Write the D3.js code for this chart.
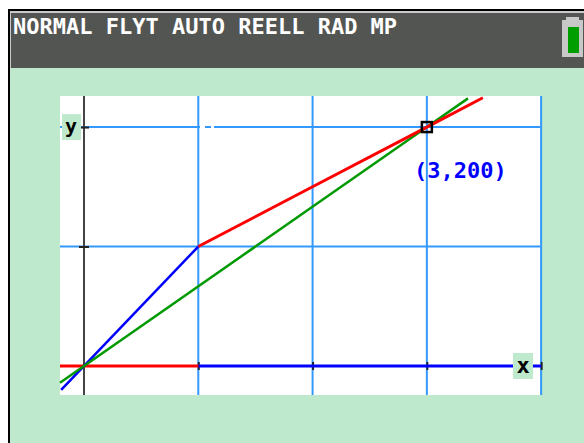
<!DOCTYPE html>
<html>
<head>
<meta charset="utf-8">
<script src="https://cdn.jsdelivr.net/npm/d3@7"></script>
<style>
  html, body { margin: 0; padding: 0; background: #fff; }
  svg { display: block; }
</style>
</head>
<body>
<svg width="584" height="443"></svg>
<script>
var svg = d3.select("svg"),
    width = +svg.attr("width"),
    height = +svg.attr("height");

// window settings
var xWindow = [-0.21, 3.99],
    yWindow = [-24.3, 226];
var xGrid = [1, 2, 3, 4],
    yGrid = [100, 200];

// graphed pieces (x, y)
var redA = [[-0.21, 0], [1, 0]];
var redB = [[1, 100], [2, 150], [3, 200], [3.49, 224.5]];
var blueA = [[-0.2, -20], [1, 100]];
var blueB = [[1, 0], [4, 0]];
var green = [[-0.21, -14], [3, 200], [3.36, 224]];

var point = [3, 200],
    pointLabel = "(3,200)";

var statusText = "NORMAL FLYT AUTO REELL RAD MP";

var x = d3.scaleLinear().domain(xWindow).range([60, 540]),
    y = d3.scaleLinear().domain(yWindow).range([395, 96]);

var mono = "'DejaVu Sans Mono', monospace";

// screen frame
svg.append("rect").attr("x", 9).attr("y", 11).attr("width", width - 9).attr("height", height - 11)
    .attr("fill", "#bfe9cc");
svg.append("line").attr("x1", 9).attr("x2", 9).attr("y1", 10).attr("y2", height)
    .attr("stroke", "#000").attr("stroke-width", 2);
svg.append("line").attr("x1", 8).attr("x2", width).attr("y1", 10).attr("y2", 10)
    .attr("stroke", "#000").attr("stroke-width", 2);
svg.append("rect").attr("x", 10).attr("y", 11).attr("width", width - 10).attr("height", 57)
    .attr("fill", "#c9c9c9");
svg.append("rect").attr("x", 11).attr("y", 13).attr("width", width - 11).attr("height", 55)
    .attr("fill", "#535552");

svg.append("text")
    .attr("x", 13).attr("y", 34)
    .attr("font-family", mono).attr("font-weight", "bold").attr("font-size", 22)
    .attr("fill", "#fff")
    .text(statusText);

// battery
svg.append("rect").attr("x", 562).attr("y", 20).attr("width", 21).attr("height", 37)
    .attr("fill", "#c8c8c8");
svg.append("rect").attr("x", 566).attr("y", 17).attr("width", 13).attr("height", 4)
    .attr("fill", "#c8c8c8");
svg.append("rect").attr("x", 568).attr("y", 27).attr("width", 11).attr("height", 26)
    .attr("fill", "#009e00");

// plot area
svg.append("rect")
    .attr("x", x.range()[0]).attr("y", y.range()[1])
    .attr("width", x.range()[1] - x.range()[0])
    .attr("height", y.range()[0] - y.range()[1])
    .attr("fill", "#fff");

var grid = svg.append("g").attr("stroke", "#3399ff").attr("stroke-width", 2);
grid.selectAll(".gx").data(xGrid).enter().append("line")
    .attr("x1", function (d) { return x(d); }).attr("x2", function (d) { return x(d); })
    .attr("y1", y.range()[1]).attr("y2", y.range()[0]);
grid.selectAll(".gy").data(yGrid).enter().append("line")
    .attr("x1", x.range()[0]).attr("x2", x.range()[1])
    .attr("y1", function (d) { return y(d); }).attr("y2", function (d) { return y(d); });

// small white gaps left in the top gridline
svg.append("rect").attr("x", 200).attr("y", y(200) - 2).attr("width", 5).attr("height", 4).attr("fill", "#fff");
svg.append("rect").attr("x", 211).attr("y", y(200) - 2).attr("width", 3).attr("height", 4).attr("fill", "#fff");

// axes
svg.append("line")
    .attr("x1", x(0)).attr("x2", x(0))
    .attr("y1", y.range()[1]).attr("y2", y.range()[0])
    .attr("stroke", "#444").attr("stroke-width", 2);
svg.append("line")
    .attr("x1", x.range()[0]).attr("x2", x.range()[1])
    .attr("y1", y(0)).attr("y2", y(0))
    .attr("stroke", "#444").attr("stroke-width", 2);

var xAxis = svg.append("g")
    .attr("transform", "translate(0," + (y(0) + 4) + ")")
    .call(d3.axisTop(x).tickValues(xGrid).tickSize(8).tickFormat(""));
var yAxis = svg.append("g")
    .attr("transform", "translate(" + (x(0) - 5) + ",0)")
    .call(d3.axisRight(y).tickValues(yGrid).tickSize(10).tickFormat(""));
[xAxis, yAxis].forEach(function (a) {
    a.select(".domain").remove();
    a.selectAll(".tick line").attr("stroke", "#222").attr("stroke-width", 2);
});

// graphs
var line = d3.line()
    .x(function (d) { return x(d[0]); })
    .y(function (d) { return y(d[1]); });

function draw(data, color, w) {
    svg.append("path")
        .attr("d", line(data))
        .attr("fill", "none")
        .attr("stroke", color)
        .attr("stroke-width", w);
}
draw(blueB, "#0000ff", 3);
draw(redA, "#ff0000", 3);
draw(blueA, "#0000ff", 2.5);
draw(green, "#009a00", 2.5);
draw(redB, "#ff0000", 3);

// axis labels
svg.append("rect").attr("x", 62).attr("y", y(200) - 13).attr("width", 19).attr("height", 26).attr("fill", "#bfe9cc");
svg.append("text").attr("x", 71).attr("y", y(200) + 6)
    .attr("text-anchor", "middle")
    .attr("font-family", mono).attr("font-weight", "bold").attr("font-size", 20)
    .attr("fill", "#000").text("y");
svg.append("rect").attr("x", 513).attr("y", y(0) - 13).attr("width", 20).attr("height", 26).attr("fill", "#bfe9cc");
svg.append("text").attr("x", 523).attr("y", y(0) + 7)
    .attr("text-anchor", "middle")
    .attr("font-family", mono).attr("font-weight", "bold").attr("font-size", 22)
    .attr("fill", "#000").text("x");

// trace point
svg.append("rect")
    .attr("x", x(point[0]) - 5).attr("y", y(point[1]) - 5)
    .attr("width", 10).attr("height", 10)
    .attr("fill", "none").attr("stroke", "#000").attr("stroke-width", 2.5);

svg.append("text")
    .attr("x", 414).attr("y", 178)
    .attr("font-family", mono).attr("font-weight", "bold").attr("font-size", 22)
    .attr("fill", "#0000ff")
    .text(pointLabel);
</script>
</body>
</html>
